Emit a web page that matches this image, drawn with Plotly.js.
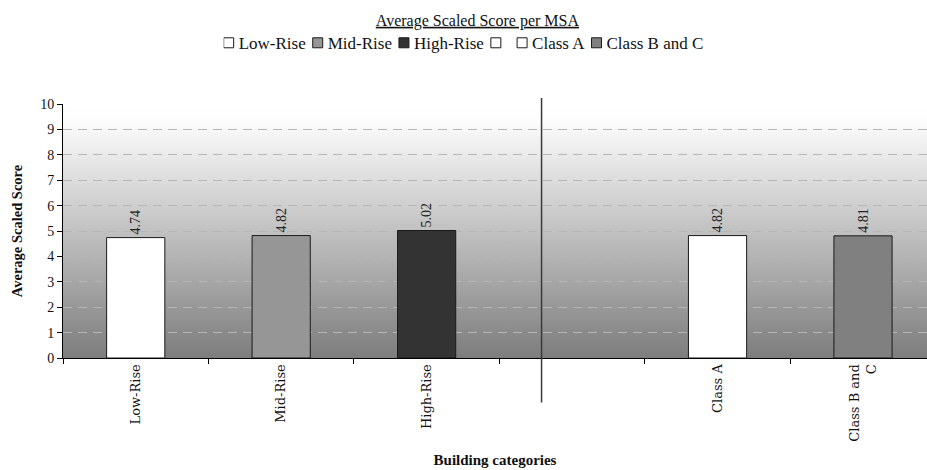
<!DOCTYPE html>
<html>
<head>
<meta charset="utf-8">
<script src="https://cdn.plot.ly/plotly-3.0.1.min.js"></script>
<style>
  html, body { margin: 0; padding: 0; background: #ffffff; }
  #chart { width: 927px; height: 470px; }
</style>
</head>
<body>
<div id="chart"></div>
<script>
// Building categories on the x axis (the blank one is the spacer between the two groups)
const categories = ["Low-Rise", "Mid-Rise", "High-Rise", " ", "Class A", "Class B and C"];
const tickLabels = ["Low-Rise", "Mid-Rise", "High-Rise", "", "Class A", "Class B and<br>C"];
// Average scaled score for each category
const scores = [4.74, 4.82, 5.02, null, 4.82, 4.81];
// Legend names of the series
const seriesNames = ["Low-Rise", "Mid-Rise", "High-Rise", " ", "Class A", "Class B and C"];

const fillColors = ["#ffffff", "#969696", "#333333", "#ffffff", "#ffffff", "#808080"];
const SERIF = "Liberation Serif";

const traces = categories.map((cat, i) => ({
  type: "bar",
  name: seriesNames[i],
  x: [cat],
  y: [scores[i]],
  width: 0.4,
  marker: { color: fillColors[i], line: { color: "#1a1a1a", width: 1 } },
  text: scores[i] === null ? [""] : [scores[i].toFixed(2)],
  textposition: "outside",
  textangle: -90,
  textfont: { family: SERIF, size: 14, color: "#222222" },
  cliponaxis: false,
  hoverinfo: "x+y"
}));

// Vertical gradient for the plot background: white at the top, mid grey at the base
const gradSvg =
  '<svg xmlns="http://www.w3.org/2000/svg" width="10" height="100" preserveAspectRatio="none">' +
  '<defs><linearGradient id="g" x1="0" y1="0" x2="0" y2="1">' +
  '<stop offset="0" stop-color="#ffffff"/><stop offset="0.06" stop-color="#fdfdfd"/>' +
  '<stop offset="1" stop-color="#7d7d7d"/>' +
  '</linearGradient></defs><rect width="10" height="100" fill="url(#g)"/></svg>';

const layout = {
  width: 927,
  height: 470,
  margin: { l: 63, r: 0, t: 104, b: 112 },
  paper_bgcolor: "#ffffff",
  plot_bgcolor: "rgba(0,0,0,0)",
  barmode: "overlay",
  showlegend: true,
  font: { family: SERIF, color: "#111111" },
  title: {
    text: "<u>Average Scaled Score per MSA</u>",
    font: { family: SERIF, size: 16, color: "#111111" },
    xref: "container", x: 0.515, xanchor: "center",
    yref: "container", y: 0.957, yanchor: "middle"
  },
  legend: {
    orientation: "h",
    xref: "container", x: 0.5, xanchor: "center",
    yref: "container", y: 0.908, yanchor: "middle",
    font: { family: SERIF, size: 17, color: "#111111" },
    itemwidth: 30,
    traceorder: "normal",
    bgcolor: "rgba(0,0,0,0)"
  },
  xaxis: {
    type: "category",
    categoryorder: "array",
    categoryarray: categories,
    tickvals: categories,
    ticktext: tickLabels,
    range: [-0.5, 5.44],
    tickson: "boundaries",
    ticks: "outside",
    ticklen: 5,
    tickcolor: "#000000",
    tickangle: -90,
    tickfont: { family: "DejaVu Serif", size: 13, color: "#111111" },
    showline: true,
    linecolor: "#000000",
    linewidth: 1,
    showgrid: false,
    zeroline: false,
    title: {
      text: "<b>Building categories</b>",
      font: { family: SERIF, size: 15, color: "#111111" },
      standoff: 13
    }
  },
  yaxis: {
    range: [0, 10],
    dtick: 1,
    tick0: 0,
    ticks: "outside",
    ticklen: 5,
    tickcolor: "#000000",
    tickfont: { family: SERIF, size: 14, color: "#111111" },
    showline: true,
    linecolor: "#000000",
    linewidth: 1,
    showgrid: true,
    gridcolor: "#b6b6b6",
    griddash: "9px,6px",
    gridwidth: 1,
    zeroline: false,
    title: {
      text: "<b>Average Scaled Score</b>",
      font: { family: SERIF, size: 14.5, color: "#111111" },
      standoff: 14
    }
  },
  images: [{
    source: "data:image/svg+xml;charset=utf-8," + encodeURIComponent(gradSvg),
    xref: "paper", yref: "paper",
    x: 0, y: 1, sizex: 1, sizey: 1,
    xanchor: "left", yanchor: "top",
    sizing: "stretch",
    layer: "below"
  }],
  shapes: [{
    // divider between the height groups and the class groups
    type: "line",
    xref: "x", yref: "paper",
    x0: 2.79, x1: 2.79, y0: -0.175, y1: 1.024,
    line: { color: "#3a3a3a", width: 1.5 }
  }]
};

// Pack the legend entries tightly: small swatch, short gap, then the label
function tightenLegend(gd) {
  const legend = gd.querySelector("g.legend");
  if (!legend) return;
  const items = Array.from(legend.querySelectorAll("g.traces"));
  if (!items.length) return;
  const parseT = (el) => {
    const m = /translate\(\s*([-\d.eE]+)[\s,]*([-\d.eE]+)?\s*\)/.exec(el.getAttribute("transform") || "");
    return m ? [parseFloat(m[1]), parseFloat(m[2] || 0)] : [0, 0];
  };
  const swatch = 10, textGap = 5, itemGap = 7;
  const x0 = parseT(items[0])[0];
  let cursor = x0;
  items.forEach((item) => {
    const y = parseT(item)[1];
    const txt = item.querySelector("text.legendtext");
    item.querySelectorAll(".legendpoints path").forEach((p) => {
      p.setAttribute("d", "M5,5H-5V-5H5Z");
      p.setAttribute("transform", "translate(5,0)");
    });
    if (txt) {
      txt.setAttribute("x", swatch + textGap);
      txt.querySelectorAll("tspan[x]").forEach((t) => t.setAttribute("x", swatch + textGap));
    }
    const tw = txt ? txt.getComputedTextLength() : 0;
    item.setAttribute("transform", "translate(" + cursor + "," + y + ")");
    cursor += swatch + textGap + tw + itemGap;
  });
  const total = cursor - itemGap - x0;
  const lt = parseT(legend);
  const lx = gd._fullLayout.width / 2 - x0 - total / 2;
  legend.setAttribute("transform", "translate(" + lx + "," + lt[1] + ")");
}

Plotly.newPlot("chart", traces, layout, { displayModeBar: false, staticPlot: true })
  .then(tightenLegend);
</script>
</body>
</html>
